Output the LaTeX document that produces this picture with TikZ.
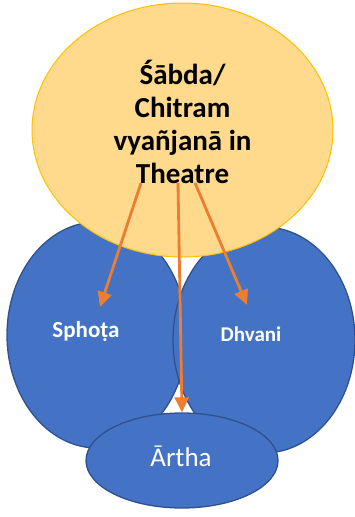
\documentclass[tikz,border=0pt]{standalone}
\usepackage{fontspec}
\setmainfont{Carlito}
\usetikzlibrary{arrows.meta,shapes.geometric}

\definecolor{BlobColor}{HTML}{4472C4}
\definecolor{BlobLine}{HTML}{2F528F}
\definecolor{TitleColor}{HTML}{FFD98C}
\definecolor{TitleLine}{HTML}{FFC000}
\definecolor{PointerColor}{HTML}{ED7D31}
\tikzstyle{rasa-base}=[ellipse,
                       inner sep=0pt,
                       text centered,
                      ]
\tikzstyle{blob}=[rasa-base,
                  fill={BlobColor},
                  draw={BlobLine},
                  line width=1.3pt]
\tikzstyle{title-blob}=[rasa-base,
                        fill={TitleColor},
                        draw={TitleLine},
                        line width=1pt,
                        minimum width=301pt,
                        minimum height=254pt]
\tikzstyle{blob-text}=[text=white, inner sep=0pt]
\tikzstyle{pointer}=[PointerColor, line width=2.8pt, -{Triangle[length=15pt,width=14pt]}]

\begin{document}
\begin{tikzpicture}[x=1pt, y=-1pt]
\useasboundingbox (0,0) rectangle (355,517);

\node at (97,335)    (sphota)     [blob, minimum width=180pt, minimum height=226pt]  {};
\node at (264,340)   (dhvani)     [blob, minimum width=182pt, minimum height=226pt]  {};
\node at (182,460.5) (artha)      [blob, minimum width=192pt, minimum height=95pt]   {};
\node at (182.5,130) (sabda)      [title-blob]                                         {};

\node at (86,331)    (sphota_txt) [blob-text, font=\bfseries\fontsize{23}{27}\selectfont] {Sphoṭa};
\node at (251,334)   (dhvani_txt) [blob-text, font=\bfseries\fontsize{21}{25}\selectfont] {Dhvani};
\node at (181,456)   (artha_txt)  [blob-text, font=\fontsize{27}{31}\selectfont]          {Ārtha};
\node at (182.5,122) (sabda_txt)  [align=center, font=\bfseries\fontsize{29}{33}\selectfont] {Śābda/\\Chitram\\vyañjanā in\\Theatre};

\coordinate (from_left)  at (141,183);
\coordinate (from_mid)   at (178,183);
\coordinate (from_right) at (195,183);
\coordinate (to_sphota)  at (100,307);
\coordinate (to_dhvani)  at (247,305);

\draw[pointer] (from_left)  -- (to_sphota);
\draw[pointer] (from_mid)   -- (artha.north);
\draw[pointer] (from_right) -- (to_dhvani);
\end{tikzpicture}
\end{document}
